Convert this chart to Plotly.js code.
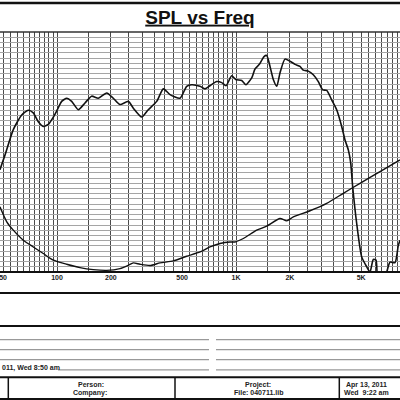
<!DOCTYPE html>
<html>
<head>
<meta charset="utf-8">
<script src="https://cdn.plot.ly/plotly-3.0.1.min.js"></script>
<style>html,body{margin:0;padding:0;background:#fff;}#chart{width:400px;height:400px;}</style>
</head>
<body>
<div id="chart"></div>
<script>
// ---- data ----
const splFreq = [48.0,51.2,57.0,63.5,69.1,73.7,78.6,83.8,89.4,95.4,100.4,106.2,113.3,120.8,131.5,143.3,156.2,170.1,189.6,206.3,224.9,250.2,266.9,297.3,323.6,360.6,392.6,427.9,486.7,530.4,565.6,629.6,671.4,715.6,780.1,832.0,879.3,946.1,996.2,1076,1137,1224,1277,1350,1434,1484,1549,1616,1689,1762,1878,2003,2136,2278,2377,2535,2703,2883,3051,3211,3424,3652,3895,4064,4241,4373,4487,4724,5037,5373,5607,5848,6055,6200,6459,6950,7251,7734,8067,8246];
const splDb = [79.6,82.4,87.3,90.1,91.0,90.5,88.8,87.9,88.3,89.7,91.1,92.7,93.3,92.7,91.1,92.4,93.7,93.3,94.3,93.3,92.1,92.7,91.4,89.7,91.1,92.7,95.1,94.0,93.3,95.6,95.9,95.6,95.1,95.7,96.5,96.3,95.7,97.6,96.9,96.7,95.9,97.2,98.9,99.8,101.3,101.5,99.4,96.9,95.6,98.2,100.8,100.4,99.8,99.4,98.7,98.5,97.8,96.5,94.9,94.8,93.0,91.1,87.9,85.3,83.4,80.9,76.3,69.3,62.9,61.0,60.0,62.4,62.3,58.0,57.5,60.0,61.9,61.8,65.1,66.1];

const impFreq = [48.0,52.4,57.0,64.8,73.7,83.8,95.4,113.3,134.4,159.5,189.6,224.9,250.2,266.9,290.9,330.8,376.3,446.4,530.4,629.6,715.6,814.0,925.7,987.2,1099,1305,1484,1762,1919,2090,2591,3211,3976,4929,6376,8246];
const impOhm = [10.25,8.81,8.01,7.05,6.40,5.77,5.13,4.74,4.42,4.23,4.16,4.33,4.64,4.87,4.74,4.62,4.87,5.06,5.51,5.92,6.40,6.73,6.88,6.88,7.21,8.01,8.39,9.13,8.90,9.29,9.87,10.58,11.54,12.50,13.62,14.74];

const labelFreqs = [50,100,200,500,1000,2000,5000];
const labelTexts = ['50','100','200','500','1K','2K','5K'];

// grid positions (chart paper grid)
const gridFreqs = [];
for (let f = 50; f <= 100; f += 5) gridFreqs.push(f);
for (let f = 150; f <= 1000; f += 50) gridFreqs.push(f);
for (let f = 1500; f <= 10000; f += 500) gridFreqs.push(f);
const gridTexts = gridFreqs.map(f => { const i = labelFreqs.indexOf(f); return i >= 0 ? labelTexts[i] : ''; });

// ---- layout helpers (pixel -> paper) ----
const TOP = 32, BOT = 271.7, H = BOT - TOP;
const py = y => (BOT - y) / H;
const px = x => x / 400;

const shapes = [];
function hline(y, x0, x1, w, c) {
  shapes.push({type:'line', xref:'paper', yref:'paper', x0:px(x0), x1:px(x1), y0:py(y), y1:py(y), line:{color:c, width:w}});
}
function vline(x, y0, y1, w, c) {
  shapes.push({type:'line', xref:'paper', yref:'paper', x0:px(x), x1:px(x), y0:py(y0), y1:py(y1), line:{color:c, width:w}});
}
hline(3, 0, 400, 2.5, '#111');
hline(TOP, 0, 400, 1.5, '#333');
hline(BOT, 0, 400, 2, '#111');
hline(292.7, 0, 400, 2, '#111');
hline(325.7, 0, 400, 2, '#111');
[339.3, 349.3, 359.3].forEach(y => { hline(y, 0, 209, 1.2, '#999'); hline(y, 216, 400, 1.2, '#999'); });
hline(369.5, 58, 209, 1.2, '#999'); hline(369.5, 216, 400, 1.2, '#999');
hline(376.7, 0, 400, 2, '#111');
hline(398.5, 0, 400, 2, '#111');
vline(8.3, 376.7, 398.5, 1.5, '#111');
vline(175, 376.7, 398.5, 1.5, '#111');
vline(339.3, 376.7, 398.5, 1.5, '#111');

const tf = {family:'Liberation Sans, Arial, sans-serif', size:7, color:'#222', weight:'bold'};
function txt(t, x, y, anchor) {
  return {text:'<b>'+t+'</b>', xref:'paper', yref:'paper', x:px(x), y:py(y), xanchor:anchor||'center', yanchor:'middle', showarrow:false, font:tf};
}
const annotations = [
  txt('011, Wed 8:50 am', 0, 367.5, 'left'),
  txt('Person:', 91, 384.5),
  txt('Company:', 90, 392.5),
  txt('Project:', 258, 384.5),
  txt('File: 040711.lib', 258, 392.5),
  txt('Apr 13, 2011', 366, 384.5),
  txt('Wed  9:22 am', 366, 392.5)
];

const traces = [
  {x: splFreq, y: splDb, type:'scatter', mode:'lines', line:{color:'#111', width:1.6, shape:'spline', smoothing:0.6}, hoverinfo:'skip'},
  {x: impFreq, y: impOhm, type:'scatter', mode:'lines', yaxis:'y2', line:{color:'#111', width:1.4, shape:'spline', smoothing:0.6}, hoverinfo:'skip'}
];

const layout = {
  width: 400, height: 400,
  margin: {l:0, r:0, t:TOP, b:400-BOT, pad:0},
  paper_bgcolor:'#fff', plot_bgcolor:'#fff',
  showlegend:false,
  title: {text:'<b><u>SPL vs Freq</u></b>', font:{family:'Liberation Sans, Arial, sans-serif', size:19, color:'#111'}, x:0.5, xanchor:'center', y:1-17/400, yref:'container', yanchor:'middle'},
  xaxis: {type:'log', range:[2-57/179, 2+343/179], tickmode:'array', tickvals:gridFreqs, ticktext:gridTexts,
          showgrid:true, gridcolor:'#4a4a4a', gridwidth:1, ticks:'', zeroline:false, showline:false,
          ticklabeloverflow:'allow',
          tickfont:{family:'Liberation Sans, Arial, sans-serif', size:7, color:'#222', weight:'bold'}},
  yaxis: {range:[60,106], dtick:1, tick0:60, showgrid:true, gridcolor:'#a5a5a5', gridwidth:1, showticklabels:false, ticks:'', zeroline:false, showline:false},
  yaxis2: {range:[4,27], overlaying:'y', side:'right', showgrid:false, showticklabels:false, ticks:'', zeroline:false, showline:false},
  shapes: shapes,
  annotations: annotations
};

Plotly.newPlot('chart', traces, layout, {staticPlot:true, displayModeBar:false});
</script>
</body>
</html>
